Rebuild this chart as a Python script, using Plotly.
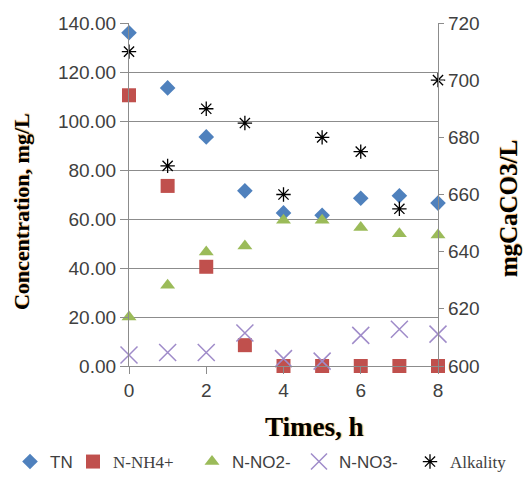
import plotly.graph_objects as go

hours = [0, 1, 2, 3, 4, 5, 6, 7, 8]
tn = [136.0, 113.5, 93.5, 71.5, 62.5, 61.5, 68.5, 69.5, 66.5]
n_nh4 = [110.5, 73.5, 40.5, 8.5, 0.0, 0.0, 0.0, 0.0, 0.0]
n_no2 = [20.0, 33.0, 46.5, 49.0, 59.5, 59.5, 56.5, 54.0, 53.5]
n_no3 = [4.5, 5.5, 5.5, 13.5, 3.0, 2.0, 12.5, 15.0, 13.0]
alkality = [710, 670, 690, 685, 660, 680, 675, 655, 700]

left_ticks = [0, 20, 40, 60, 80, 100, 120, 140]
right_ticks = [600, 620, 640, 660, 680, 700, 720]
x_ticks = [0, 2, 4, 6, 8]

SERIF = "Liberation Serif"
SANS = "Liberation Sans"
GRID = "#8c8c8c"
TICKC = "#404040"
FRINGE = "1px 0px 1px rgba(235,150,40,0.75)"

fig = go.Figure()
fig.add_trace(go.Scatter(x=hours, y=tn, mode="markers", name="TN", legend="legend",
                         marker=dict(symbol="diamond", size=12, color="#4F81BD"),
                         cliponaxis=False))
fig.add_trace(go.Scatter(x=hours, y=n_nh4, mode="markers", legend="legend2",
                         name='<span style="font-family:Liberation Serif">N-NH4+</span>',
                         marker=dict(symbol="square", size=14, color="#C0504D"),
                         cliponaxis=False))
fig.add_trace(go.Scatter(x=hours, y=n_no2, mode="markers", name="N-NO2-", legend="legend3",
                         marker=dict(symbol="triangle-up", size=13, color="#9BBB59"),
                         cliponaxis=False))
fig.add_trace(go.Scatter(x=hours, y=n_no3, mode="markers", name="N-NO3-", legend="legend4",
                         marker=dict(symbol="x-thin-open", size=17, color="#9F8BC9",
                                     line=dict(width=1.5, color="#9F8BC9")),
                         cliponaxis=False))
fig.add_trace(go.Scatter(x=hours, y=alkality, mode="markers", yaxis="y2", legend="legend5",
                         name='<span style="font-family:Liberation Serif">Alkality</span>',
                         marker=dict(symbol="asterisk-open", size=12, color="#000000",
                                     line=dict(width=1.3, color="#000000")),
                         cliponaxis=False))

W, H = 524, 478

def leg(px):
    return dict(orientation="h", xref="container", yref="container",
                x=px / W, xanchor="left", y=1 - 462 / H, yanchor="middle",
                font=dict(family=SANS, size=17, color=TICKC),
                itemwidth=30, bgcolor="rgba(0,0,0,0)")

fig.update_layout(
    width=W, height=H,
    margin=dict(l=129, r=86, t=23, b=112),
    plot_bgcolor="white", paper_bgcolor="white",
    font=dict(family=SANS, size=19, color=TICKC),
    showlegend=True,
    xaxis=dict(range=[0, 8], tickvals=x_ticks, ticks="outside", ticklen=7,
               tickcolor=GRID, showline=True, linecolor=GRID, linewidth=1.3,
               showgrid=False, zeroline=False, tickfont=dict(size=19, color=TICKC)),
    yaxis=dict(range=[0, 140], tickvals=left_ticks, tickformat=".2f",
               ticks="outside", ticklen=8, tickcolor=GRID,
               showline=True, linecolor=GRID, linewidth=1.3,
               showgrid=True, gridcolor=GRID, gridwidth=1.3, zeroline=False,
               tickfont=dict(size=19, color=TICKC)),
    yaxis2=dict(range=[600, 720], tickvals=right_ticks, overlaying="y", side="right",
                ticks="outside", ticklen=5, tickcolor=GRID,
                showline=True, linecolor=GRID, linewidth=1.3,
                showgrid=False, zeroline=False, tickfont=dict(size=19, color=TICKC)),
    legend=leg(10),
    legend2=leg(73),
    legend3=leg(192),
    legend4=leg(299),
    legend5=leg(410),
)

fig.add_annotation(text="<b>Times, h</b>", xref="paper", yref="paper",
                   x=0.599, y=-0.178, xanchor="center", yanchor="middle", showarrow=False,
                   font=dict(family=SERIF, size=27, color="#000000", shadow=FRINGE))
fig.add_annotation(text="<b>Concentration, mg/L</b>", xref="paper", yref="paper",
                   x=-0.346, y=0.449, xanchor="center", yanchor="middle", showarrow=False,
                   textangle=-90,
                   font=dict(family=SERIF, size=22, color="#000000", shadow=FRINGE))
fig.add_annotation(text="<b>mgCaCO3/L</b>", xref="paper", yref="paper",
                   x=1.227, y=0.46, xanchor="center", yanchor="middle", showarrow=False,
                   textangle=-90,
                   font=dict(family=SERIF, size=25, color="#000000", shadow=FRINGE))

fig.write_html("out.html")
